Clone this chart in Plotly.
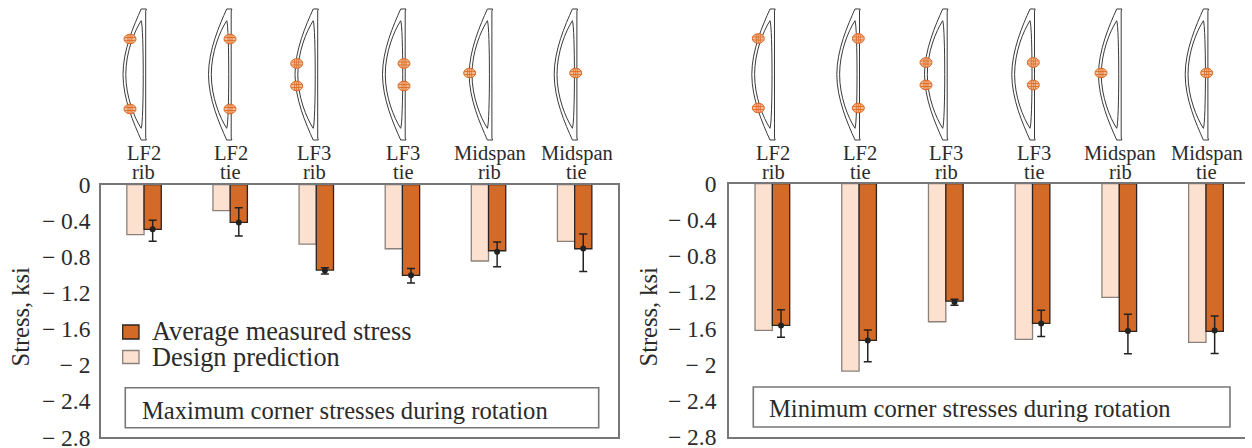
import plotly.graph_objects as go

W, H = 1252, 448
FONT = "Liberation Serif"
INK = "#2b2b2b"
GREY = "#77777a"
ORANGE = "#D46A27"
PEACH = "#FDE1D0"

categories = ["LF2 rib", "LF2 tie", "LF3 rib", "LF3 tie", "Midspan rib", "Midspan tie"]
tick_vals = [0, -0.4, -0.8, -1.2, -1.6, -2, -2.4, -2.8]
tick_text = ["0", "− 0.4", "− 0.8", "− 1.2", "− 1.6", "− 2", "− 2.4", "− 2.8"]

max_design = [-0.554, -0.288, -0.658, -0.71, -0.846, -0.628]
max_measured = [-0.495, -0.418, -0.946, -1.005, -0.732, -0.71]
max_point = [-0.495, -0.418, -0.95, -1.005, -0.743, -0.706]
max_upper = [-0.395, -0.255, -0.92, -0.928, -0.636, -0.547]
max_lower = [-0.628, -0.569, -0.99, -1.09, -0.909, -0.961]

min_design = [-1.624, -2.074, -1.528, -1.723, -1.258, -1.756]
min_measured = [-1.568, -1.734, -1.30, -1.546, -1.635, -1.635]
min_point = [-1.568, -1.734, -1.31, -1.546, -1.63, -1.624]
min_upper = [-1.395, -1.62, -1.28, -1.40, -1.446, -1.465]
min_lower = [-1.70, -1.97, -1.345, -1.69, -1.882, -1.878]

def px(x):
    return x / W

def py(y):
    return 1 - y / H

fig = go.Figure()

def add_panel(design, measured, point, upper, lower, xa, ya):
    idx = list(range(len(categories)))
    fig.add_bar(x=idx, y=design, name="Design prediction", xaxis=xa, yaxis=ya,
                marker=dict(color=PEACH, line=dict(color="#8b817b", width=1.3)), showlegend=False)
    fig.add_bar(x=idx, y=measured, name="Average measured stress", xaxis=xa, yaxis=ya,
                marker=dict(color=ORANGE, line=dict(color="#2a2320", width=1.3)), showlegend=False)
    fig.add_scatter(x=[i + 0.1 for i in idx], y=point, mode="markers", xaxis=xa, yaxis=ya,
                    marker=dict(color="#222222", size=6), showlegend=False,
                    error_y=dict(type="data", symmetric=False,
                                 array=[u - p for u, p in zip(upper, point)],
                                 arrayminus=[p - l for p, l in zip(point, lower)],
                                 color="#222222", thickness=1.5, width=4))

add_panel(max_design, max_measured, max_point, max_upper, max_lower, "x", "y")
add_panel(min_design, min_measured, min_point, min_upper, min_lower, "x2", "y2")

shapes, notes = [], []

def text(x, y, s, size, anchor="center", angle=0):
    notes.append(dict(x=px(x), y=py(y), xref="paper", yref="paper", text=s, showarrow=False,
                      xanchor=anchor, yanchor="middle", textangle=angle, borderpad=0, borderwidth=0,
                      font=dict(family=FONT, size=size, color=INK)))

def path(points_cmd, **kw):
    out = []
    for tok in points_cmd:
        if isinstance(tok, str):
            out.append(tok)
        else:
            out.append(f"{px(tok[0]):.6f},{py(tok[1]):.6f}")
    shapes.append(dict(type="path", xref="paper", yref="paper", path=" ".join(out), **kw))

def icon(t):
    line = dict(color="#3a3a3a", width=1)
    path(["M", (t + 1.9, 9), "L", (t + 1.2, 11), "L", (t + 1.2, 138), "L", (t + 1.9, 140),
          "L", (t - 3.3, 140),
          "C", (t - 10.5, 124), (t - 21.5, 99), (t - 21.5, 74.5),
          "C", (t - 21.5, 50), (t - 10.5, 25), (t - 3.3, 9), "Z"], line=line, fillcolor="white")
    path(["M", (t - 3.3, 20.7),
          "C", (t - 10, 31), (t - 18.7, 52), (t - 18.7, 74.5),
          "C", (t - 18.7, 97), (t - 10, 118), (t - 3.3, 128.3),
          "C", (t - 0.6, 122), (t - 0.6, 27), (t - 3.3, 20.7), "Z"], line=line, fillcolor="white")

def sensor(x, y):
    rx, ry = 6, 4.8
    shapes.append(dict(type="circle", xref="paper", yref="paper", x0=px(x - rx), x1=px(x + rx),
                       y0=py(y + ry), y1=py(y - ry), fillcolor="#F4BE96",
                       line=dict(color="#DB6620", width=1)))
    grid = ["M", (x - rx + .6, y - 1.5), "L", (x + rx - .6, y - 1.5),
            "M", (x - rx + .6, y + 1.5), "L", (x + rx - .6, y + 1.5),
            "M", (x - 2, y - ry + .5), "L", (x - 2, y + ry - .5),
            "M", (x, y - ry), "L", (x, y + ry),
            "M", (x + 2, y - ry + .5), "L", (x + 2, y + ry - .5)]
    path(grid, line=dict(color="#DB6620", width=0.8))

def draw_header(ties, labels, sensors):
    for t in ties:
        icon(t)
    for (x, y) in sensors:
        sensor(x, y)
    for lx, cat in zip(labels, categories):
        a, b = cat.split(" ")
        text(lx, 153, a, 20.5)
        text(lx, 172, b, 20.5)

draw_header([144.5, 230, 316.5, 404, 490.7, 575.7], [143.5, 230.7, 314.5, 403, 490, 576.7],
            [(130, 39), (130, 109), (230, 39), (230, 109), (296.7, 63.5), (296.7, 86),
             (404, 63.5), (404, 86), (469.7, 73), (575.7, 73)])
draw_header([773.3, 858.3, 946, 1033.3, 1120, 1206.7], [773, 860, 946, 1034, 1120, 1206.7],
            [(758.3, 38.5), (758.3, 108), (858.3, 38.5), (858.3, 108), (926, 62.5), (926, 85),
             (1033.3, 62.5), (1033.3, 85), (1101, 73), (1206.7, 73)])

# caption boxes
shapes.append(dict(type="rect", xref="paper", yref="paper", x0=px(125.3), x1=px(598.7), y0=py(427.7), y1=py(387.7),
                   line=dict(color=GREY, width=1.6), fillcolor="white"))
shapes.append(dict(type="rect", xref="paper", yref="paper", x0=px(753.3), x1=px(1230), y0=py(427), y1=py(387),
                   line=dict(color=GREY, width=1.6), fillcolor="white"))
text(142, 410, "Maximum corner stresses during rotation", 24.6, "left")
text(769, 408, "Minimum corner stresses during rotation", 24.6, "left")

# legend key
shapes.append(dict(type="rect", xref="paper", yref="paper", x0=px(122.7), x1=px(139), y0=py(339), y1=py(325),
                   line=dict(color="#2a2320", width=1.3), fillcolor=ORANGE))
shapes.append(dict(type="rect", xref="paper", yref="paper", x0=px(122.7), x1=px(139), y0=py(363.5), y1=py(350.5),
                   line=dict(color="#8b817b", width=1.3), fillcolor=PEACH))
text(151.5, 331, "Average measured stress", 26.3, "left")
text(151.5, 357, "Design prediction", 26.3, "left")

text(20, 316.5, "Stress, ksi", 24.5, angle=-90)
text(648, 316.5, "Stress, ksi", 24.5, angle=-90)

def xaxis(dom, rng, anchor):
    return dict(domain=dom, range=rng, anchor=anchor, showticklabels=False, ticks="", showgrid=False,
                zeroline=False, showline=True, mirror=True, linecolor=GREY, linewidth=1.6, automargin=False)

def yaxis(dom, anchor, mirror, ticklen):
    return dict(domain=dom, range=[-2.8, 0], anchor=anchor, tickvals=tick_vals, ticktext=tick_text,
                ticks="outside", ticklen=ticklen, tickcolor="rgba(0,0,0,0)", showgrid=False, zeroline=False,
                showline=True, mirror=mirror, linecolor=GREY, linewidth=1.6, automargin=False,
                ticklabeloverflow="allow",
                tickfont=dict(family=FONT, size=23.5, color=INK))

fig.update_layout(
    width=W, height=H, margin=dict(l=0, r=0, t=0, b=0), autosize=False,
    paper_bgcolor="white", plot_bgcolor="white",
    barmode="group", bargap=0.6, bargroupgap=0,
    xaxis=xaxis([px(101), px(617.7)], [-0.5, 5.5], "y"),
    yaxis=yaxis([py(437.3), py(184.7)], "x", True, 4),
    xaxis2=xaxis([px(729), px(1245)], [-0.5, 5.45], "y2"),
    yaxis2=yaxis([py(436.7), py(183.7)], "x2", False, 6),
    shapes=shapes, annotations=notes,
)
fig.write_html("out.html", config=dict(displayModeBar=False), post_script=(
    "var g=document.getElementById('{plot_id}');document.body.style.margin='0';"
    "g.style.position='absolute';g.style.left='0';g.style.top='0';"))
